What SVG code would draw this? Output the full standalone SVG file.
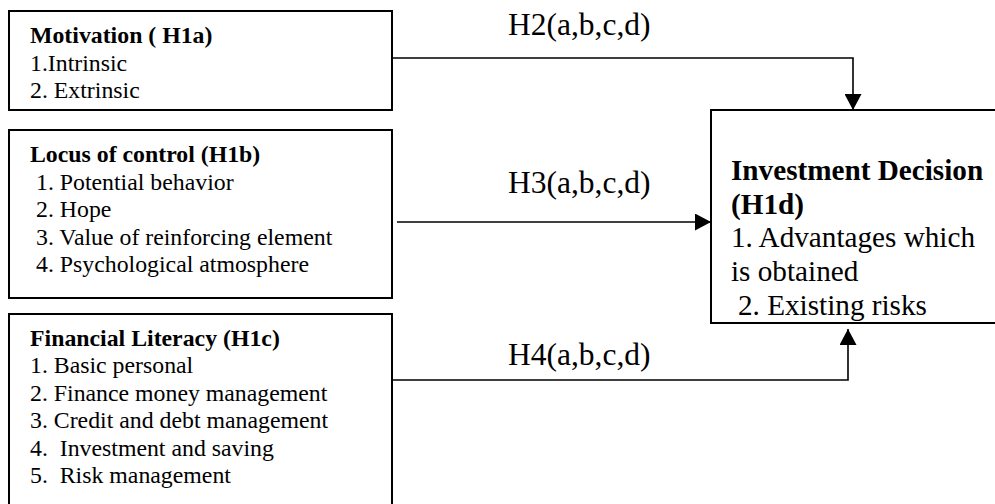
<svg xmlns="http://www.w3.org/2000/svg" width="995" height="504" viewBox="0 0 995 504">
  <defs>
    <style>
      .box { fill: #ffffff; stroke: #000000; stroke-width: 2; }
      .t { font-family: "Liberation Serif", "Times New Roman", serif; font-size: 23.8px; fill: #000000; }
      .b { font-weight: bold; }
      .r { font-family: "Liberation Serif", "Times New Roman", serif; font-size: 29.2px; fill: #000000; }
      .lbl { font-family: "Liberation Serif", "Times New Roman", serif; font-size: 31.5px; fill: #000000; }
      .conn { fill: none; stroke: #000000; stroke-width: 1.6; }
    </style>
    <marker id="arrow" markerUnits="userSpaceOnUse" markerWidth="17" markerHeight="17" viewBox="0 0 16 17" refX="16" refY="8.5" orient="auto">
      <path d="M0,0 L16,8.5 L0,17 Z" fill="#000000"/>
    </marker>
  </defs>
  <rect width="995" height="504" fill="#ffffff"/>

  <g id="motivation">
    <rect class="box" x="9" y="11" width="383" height="99"/>
    <text class="t b" x="30" y="43">Motivation ( H1a)</text>
    <text class="t" x="30" y="71">1.Intrinsic</text>
    <text class="t" x="30" y="98">2. Extrinsic</text>
  </g>

  <g id="locus">
    <rect class="box" x="9" y="130" width="383" height="168"/>
    <text class="t b" x="30" y="162">Locus of control (H1b)</text>
    <text class="t" x="36" y="190">1. Potential behavior</text>
    <text class="t" x="36" y="217">2. Hope</text>
    <text class="t" x="36" y="245">3. Value of reinforcing element</text>
    <text class="t" x="36" y="272">4. Psychological atmosphere</text>
  </g>

  <g id="financial">
    <rect class="box" x="9" y="314" width="383" height="200"/>
    <text class="t b" x="30" y="346">Financial Literacy (H1c)</text>
    <text class="t" x="30" y="373">1. Basic personal</text>
    <text class="t" x="30" y="401">2. Finance money management</text>
    <text class="t" x="30" y="428">3. Credit and debt management</text>
    <text class="t" x="30" y="456" xml:space="preserve">4.  Investment and saving</text>
    <text class="t" x="30" y="483" xml:space="preserve">5.  Risk management</text>
  </g>

  <g id="investment">
    <rect class="box" x="711" y="110" width="300" height="213"/>
    <text class="r b" x="731" y="180">Investment Decision</text>
    <text class="r b" x="731" y="214">(H1d)</text>
    <text class="r" x="731" y="247">1. Advantages which</text>
    <text class="r" x="731" y="281">is obtained</text>
    <text class="r" x="738" y="315">2. Existing risks</text>
  </g>

  <g id="connectors">
    <path class="conn" d="M392,58 H853 V110" marker-end="url(#arrow)"/>
    <path class="conn" d="M397,222 H711" stroke-width="2.4" marker-end="url(#arrow)"/>
    <path class="conn" d="M392,380 H848 V329" marker-end="url(#arrow)"/>
    <text class="lbl" x="508" y="35">H2(a,b,c,d)</text>
    <text class="lbl" x="508" y="193">H3(a,b,c,d)</text>
    <text class="lbl" x="508" y="365">H4(a,b,c,d)</text>
  </g>
</svg>
